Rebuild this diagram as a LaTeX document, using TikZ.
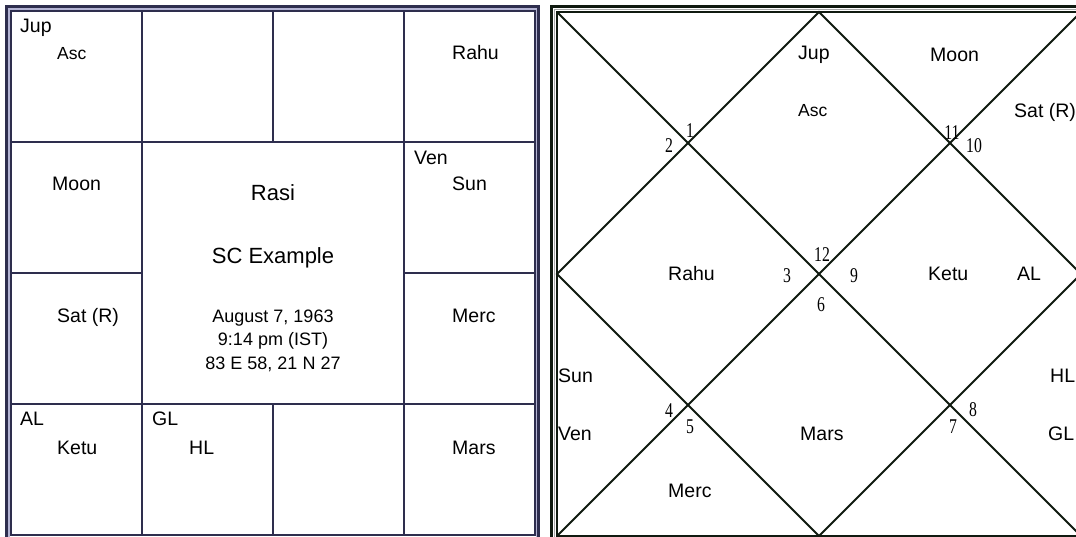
\documentclass[tikz,border=0pt]{standalone}
\usepackage{fontspec}
\setmainfont{Liberation Sans}
\newfontfamily\numfont[FakeStretch=0.75]{Liberation Serif}
\usetikzlibrary{positioning}

\definecolor{gridnavy}{HTML}{2E2E4E}
\definecolor{gridlav}{HTML}{B4B4D4}
\definecolor{chartblack}{HTML}{101A10}
\definecolor{chartgrey}{HTML}{A8A8A8}

\begin{document}
\begin{tikzpicture}[
    x=1pt,
    y=-1pt,
    planet/.style={
        anchor=base west,
        inner sep=0pt,
        font=\fontsize{19.5}{22}\selectfont
    },
    lagna/.style={
        anchor=base west,
        inner sep=0pt,
        font=\fontsize{17.5}{20}\selectfont
    },
    title/.style={
        anchor=base,
        inner sep=0pt,
        font=\fontsize{22}{26}\selectfont
    },
    info/.style={
        anchor=base,
        inner sep=0pt,
        font=\fontsize{18}{21}\selectfont
    },
    housenum/.style={
        anchor=base,
        inner sep=0pt,
        font=\numfont\fontsize{21}{23}\selectfont
    },
    gridline/.style={
        draw=gridnavy,
        line width=2.2pt
    },
    chartline/.style={
        draw=chartblack,
        line width=1.8pt
    }
]

\useasboundingbox (0,0) rectangle (1076,537);

% ============================================================
% Left: south indian square chart
% ============================================================

\begin{scope}
    \draw[draw=gridnavy, line width=3pt]   (6.5,6.5) rectangle (538.5,539.5);
    \draw[draw=gridlav,  line width=1.2pt] (9,9)     rectangle (536.5,537.5);
    \draw[draw=gridnavy, line width=1.5pt] (11,11)   rectangle (535,535);

    \foreach \p in {142,404} {
        \draw[gridline] (\p,11) -- (\p,535);
        \draw[gridline] (11,\p) -- (535,\p);
    }
    \draw[gridline] (273,11)  -- (273,142);
    \draw[gridline] (273,404) -- (273,535);
    \draw[gridline] (11,273)  -- (142,273);
    \draw[gridline] (404,273) -- (535,273);

    \node[planet] (ljup)  at (20,33)   {Jup};
    \node[lagna]  (lasc)  at (57,60)   {Asc};
    \node[planet] (lrahu) at (452,60)  {Rahu};
    \node[planet] (lmoon) at (52,191)  {Moon};
    \node[planet] (lven)  at (414,165) {Ven};
    \node[planet] (lsun)  at (452,191) {Sun};
    \node[planet] (lsat)  at (57,322)  {Sat (R)};
    \node[planet] (lmerc) at (452,322) {Merc};
    \node[planet] (lal)   at (20,425)  {AL};
    \node[planet] (lketu) at (57,454)  {Ketu};
    \node[planet] (lgl)   at (152,425) {GL};
    \node[planet] (lhl)   at (189,454) {HL};
    \node[planet] (lmars) at (452,454) {Mars};

    \node[title] (rasi)  at (273,201) {Rasi};
    \node[title] (name)  at (273,264) {SC Example};
    \node[info]  (date)  at (273,322) {August 7, 1963};
    \node[info]  (time)  at (273,345) {9:14 pm (IST)};
    \node[info]  (place) at (273,369) {83 E 58, 21 N 27};
\end{scope}

% ============================================================
% Right: north indian diamond chart
% ============================================================

\begin{scope}
    \draw[draw=chartblack, line width=3pt] (551.5,7)  rectangle (1087,542);
    \draw[draw=chartgrey,  line width=1pt] (554.3,9.8) rectangle (1084,539);
    \draw[draw=chartblack, line width=1.5pt] (557,12) rectangle (1081,536);

    \coordinate (nw) at (557,12);
    \coordinate (ne) at (1081,12);
    \coordinate (se) at (1081,536);
    \coordinate (sw) at (557,536);
    \coordinate (n)  at (819,12);
    \coordinate (e)  at (1081,274);
    \coordinate (s)  at (819,536);
    \coordinate (w)  at (557,274);

    \draw[chartline] (nw) -- (se);
    \draw[chartline] (ne) -- (sw);
    \draw[chartline] (n) -- (e) -- (s) -- (w) -- cycle;

    \node[planet] (rjup)  at (798,60)   {Jup};
    \node[lagna]  (rasc)  at (798,117)  {Asc};
    \node[planet] (rmoon) at (930,62)   {Moon};
    \node[planet] (rsat)  at (1014,118) {Sat (R)};
    \node[planet] (rrahu) at (668,280)  {Rahu};
    \node[planet] (rketu) at (928,280)  {Ketu};
    \node[planet] (ral)   at (1017,280) {AL};
    \node[planet] (rsun)  at (558,382)  {Sun};
    \node[planet] (rven)  at (558,440)  {Ven};
    \node[planet] (rmars) at (800,440)  {Mars};
    \node[planet] (rhl)   at (1050,382) {HL};
    \node[planet] (rgl)   at (1048,440) {GL};
    \node[planet] (rmerc) at (668,497)  {Merc};

    \node[housenum] (h1)  at (690,138) {1};
    \node[housenum] (h2)  at (669,153) {2};
    \node[housenum] (h3)  at (787,283) {3};
    \node[housenum] (h4)  at (669,417) {4};
    \node[housenum] (h5)  at (690,433) {5};
    \node[housenum] (h6)  at (821,312) {6};
    \node[housenum] (h7)  at (953,433) {7};
    \node[housenum] (h8)  at (973,416) {8};
    \node[housenum] (h9)  at (854,283) {9};
    \node[housenum] (h10) at (974,153) {10};
    \node[housenum] (h11) at (952,140) {11};
    \node[housenum] (h12) at (822,262) {12};
\end{scope}

\end{tikzpicture}
\end{document}
